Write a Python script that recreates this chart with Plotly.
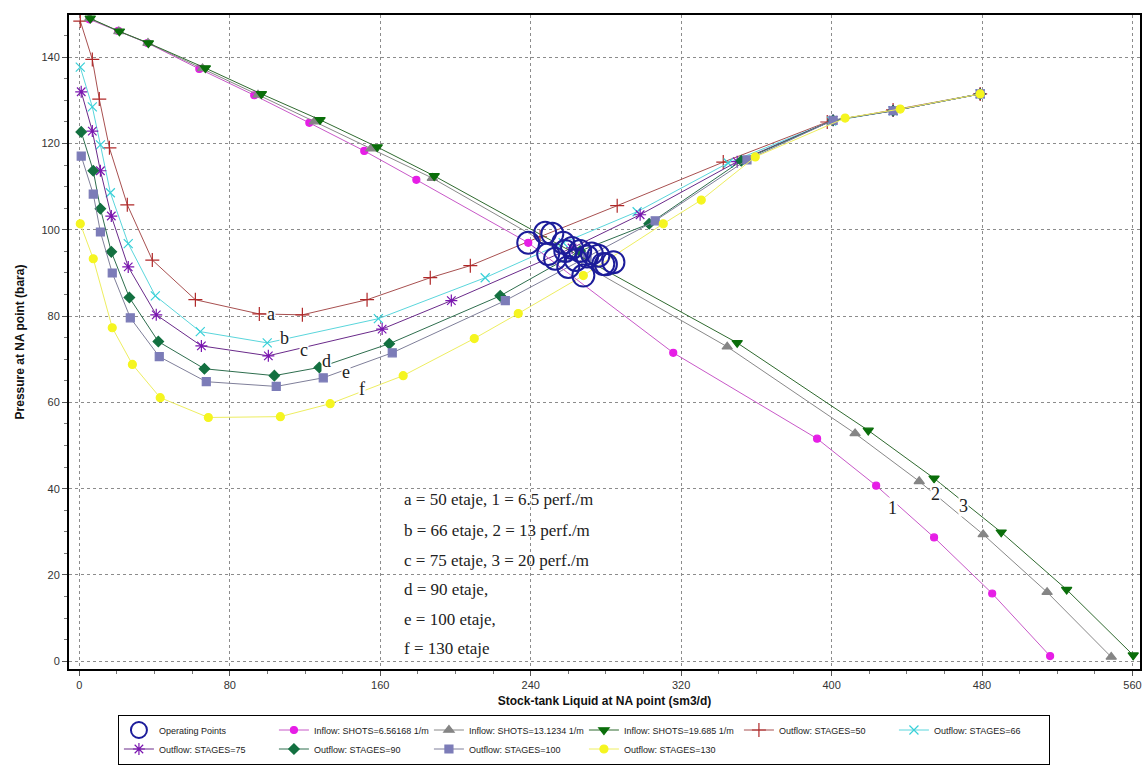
import plotly.graph_objects as go

# ---- Inflow curves (reservoir IPR) ----
in1_x = [5.3, 20.7, 36.2, 63.8, 93.0, 122.3, 151.5, 179.2, 238.7, 315.8, 392.3, 423.7, 454.5, 485.4, 516.2]
in1_y = [148.8, 146.1, 143.3, 137.3, 131.2, 124.8, 118.3, 111.6, 97.0, 71.5, 51.6, 40.7, 28.7, 15.7, 1.2]

in2_x = [5.5, 21.0, 36.5, 65.5, 95.0, 125.0, 155.0, 187.7, 344.5, 412.5, 446.6, 480.6, 514.6, 548.7]
in2_y = [149.0, 146.0, 143.3, 137.4, 131.3, 125.1, 118.8, 112.0, 72.9, 52.8, 41.7, 29.4, 16.0, 1.0]

in3_x = [5.8, 21.3, 36.7, 67.0, 96.8, 128.0, 158.4, 188.7, 349.8, 419.5, 454.5, 490.2, 525.0, 560.4]
in3_y = [149.0, 146.0, 143.3, 137.5, 131.5, 125.5, 119.2, 112.5, 73.8, 53.5, 42.4, 29.9, 16.6, 1.4]

# ---- Outflow curves (tubing + pump stages) ----
out50_x = [0.5, 6.9, 10.6, 16.0, 25.5, 38.8, 61.7, 95.7, 118.6, 153.0, 186.6, 207.9, 245.0, 286.0, 342.4, 397.7, 432.7, 479.0]
out50_y = [148.4, 139.5, 130.3, 119.0, 105.8, 93.0, 83.8, 80.5, 80.3, 83.8, 88.9, 91.7, 98.4, 105.6, 115.7, 125.0, 127.8, 131.5]

out66_x = [0.5, 6.9, 11.2, 16.5, 26.0, 40.4, 64.3, 99.9, 159.0, 215.8, 257.3, 296.6, 345.0, 400.0, 432.7, 479.0]
out66_y = [137.7, 128.5, 119.7, 108.6, 96.8, 84.7, 76.4, 73.8, 79.4, 88.9, 97.0, 104.2, 115.5, 125.2, 127.6, 131.5]

out75_x = [1.0, 6.9, 11.2, 17.0, 26.0, 40.9, 64.9, 100.5, 161.0, 197.8, 262.0, 298.2, 349.8, 400.8, 432.7, 479.0]
out75_y = [132.0, 122.9, 113.7, 103.2, 91.4, 80.3, 73.1, 70.8, 77.0, 83.6, 95.8, 103.5, 115.8, 125.4, 127.6, 131.5]

out90_x = [1.0, 7.4, 11.2, 17.0, 26.6, 42.0, 66.5, 103.7, 127.6, 164.8, 223.8, 266.3, 303.0, 352.0, 400.8, 432.7, 479.0]
out90_y = [122.7, 113.7, 104.9, 94.9, 84.3, 74.1, 67.8, 66.2, 68.1, 73.6, 84.7, 95.1, 101.4, 116.0, 125.4, 127.6, 131.5]

out100_x = [1.0, 7.4, 11.2, 17.5, 27.1, 42.5, 67.5, 104.7, 129.7, 166.4, 226.5, 270.0, 306.2, 355.0, 400.8, 432.7, 479.0]
out100_y = [117.1, 108.3, 99.5, 90.0, 79.6, 70.6, 64.8, 63.7, 65.7, 71.5, 83.6, 93.8, 102.1, 116.2, 125.4, 127.6, 131.5]

out130_x = [0.5, 7.4, 17.5, 28.2, 43.0, 68.6, 106.9, 133.4, 172.2, 210.0, 233.4, 268.0, 310.5, 330.7, 359.4, 407.2, 436.5, 479.0]
out130_y = [101.4, 93.3, 77.3, 68.8, 61.1, 56.5, 56.7, 59.7, 66.2, 74.8, 80.6, 89.4, 101.4, 106.9, 116.9, 125.9, 128.0, 131.5]

# ---- Operating points (inflow x outflow intersections) ----
op_x = [238.7, 247.7, 251.5, 249.3, 257.3, 258.4, 253.0, 262.0, 266.3, 270.0, 260.0, 278.6, 268.0, 280.0, 284.0, 264.0, 272.5, 276.0]
op_y = [97.0, 99.3, 99.1, 94.4, 97.0, 95.1, 93.3, 95.8, 95.1, 93.8, 91.4, 92.1, 89.4, 92.0, 92.5, 93.0, 94.5, 94.0]

legend_names = [
    "Operating Points",
    "Inflow: SHOTS=6.56168 1/m",
    "Inflow: SHOTS=13.1234 1/m",
    "Inflow: SHOTS=19.685 1/m",
    "Outflow: STAGES=50",
    "Outflow: STAGES=66",
    "Outflow: STAGES=75",
    "Outflow: STAGES=90",
    "Outflow: STAGES=100",
    "Outflow: STAGES=130",
]

curve_labels = ["a", "b", "c", "d", "e", "f"]
curve_label_x = [102.0, 109.0, 119.6, 131.3, 142.0, 150.5]
curve_label_y = [80.6, 75.0, 72.2, 69.7, 67.1, 63.0]

shot_labels = ["1", "2", "3"]
shot_label_x = [432.2, 455.0, 470.0]
shot_label_y = [35.6, 38.7, 36.1]

note_lines = [
    "a = 50 etaje, 1 = 6.5 perf./m",
    "b = 66 etaje, 2 = 13 perf./m",
    "c = 75 etaje, 3 = 20 perf./m",
    "d = 90 etaje,",
    "e = 100 etaje,",
    "f = 130 etaje",
]
note_x = 171.5
note_y = [37.5, 30.3, 23.4, 16.7, 9.7, 3.0]

fig = go.Figure()

def add_curve(x, y, name, line_color, marker_color, symbol, size, lw=1.0):
    fig.add_trace(go.Scatter(
        x=x, y=y, name=name, mode="lines+markers",
        line=dict(color=line_color, width=lw),
        marker=dict(color=marker_color, symbol=symbol, size=size,
                    line=dict(color=marker_color, width=1.2)),
    ))

add_curve(out50_x, out50_y, legend_names[4], "#a85050", "#b02828", "cross-thin-open", 10)
add_curve(out66_x, out66_y, legend_names[5], "#5ad6dc", "#38d0d8", "x-thin-open", 9)
add_curve(out75_x, out75_y, legend_names[6], "#6a2a8a", "#7a16b0", "asterisk-open", 10)
add_curve(out90_x, out90_y, legend_names[7], "#2e6e4e", "#137040", "diamond", 8)
add_curve(out100_x, out100_y, legend_names[8], "#7f7f9a", "#7c7cb8", "square", 8)
add_curve(out130_x, out130_y, legend_names[9], "#eeee60", "#f5f520", "circle", 8)
add_curve(in1_x, in1_y, legend_names[1], "#c858c8", "#e61ee6", "circle", 7)
add_curve(in2_x, in2_y, legend_names[2], "#888888", "#858585", "triangle-up", 9)
add_curve(in3_x, in3_y, legend_names[3], "#2f6a2f", "#0a6e0a", "triangle-down", 9)

fig.add_trace(go.Scatter(
    x=op_x, y=op_y, name=legend_names[0], mode="markers",
    marker=dict(symbol="circle-open", size=22, color="#1c1c9a", line=dict(width=2, color="#1c1c9a")),
))

for t in fig.data:
    t.legendrank = legend_names.index(t.name) + 1

annotations = []
for t, x, y in zip(curve_labels, curve_label_x, curve_label_y):
    annotations.append(dict(x=x, y=y, text=t, showarrow=False, xanchor="center", yanchor="middle",
                            bgcolor="white", borderpad=0,
                            font=dict(family="Liberation Serif", size=18, color="#222")))
for t, x, y in zip(shot_labels, shot_label_x, shot_label_y):
    annotations.append(dict(x=x, y=y, text=t, showarrow=False, xanchor="center", yanchor="middle",
                            bgcolor="white", borderpad=0,
                            font=dict(family="Liberation Serif", size=18, color="#222")))
for t, y in zip(note_lines, note_y):
    annotations.append(dict(x=note_x, y=y, text=t, showarrow=False, xanchor="left", yanchor="middle",
                            font=dict(family="Liberation Serif", size=17, color="#222")))

grid = dict(showgrid=True, gridcolor="#8c8c8c", griddash="3px,3px", gridwidth=1,
            zeroline=False, showline=True, linecolor="black", linewidth=2, mirror=True,
            ticks="outside", ticklen=5, tickcolor="#555",
            tickfont=dict(family="Liberation Sans", size=11, color="#333"))

fig.update_layout(
    width=1145, height=765,
    margin=dict(l=69, r=5, t=15, b=96, autoexpand=False),
    paper_bgcolor="white", plot_bgcolor="white",
    font=dict(family="Liberation Sans", size=11, color="#333"),
    annotations=annotations,
    showlegend=True,
    legend=dict(
        orientation="h", xref="container", yref="container",
        x=0.103, xanchor="left", y=0.066, yanchor="top",
        bordercolor="black", borderwidth=1, bgcolor="white",
        font=dict(family="Liberation Sans", size=9, color="#222"),
        entrywidth=110, itemwidth=30, tracegroupgap=0,
    ),
    xaxis=dict(
        range=[-5.5, 564], dtick=80, tick0=0,
        minor=dict(dtick=20, ticks="outside", ticklen=3, tickcolor="#777", showgrid=False),
        title=dict(text="<b>Stock-tank Liquid at NA point (sm3/d)</b>", standoff=6,
                   font=dict(family="Liberation Sans", size=12, color="#111")),
        **grid,
    ),
    yaxis=dict(
        range=[-1.8, 149.8], dtick=20, tick0=0,
        minor=dict(dtick=5, ticks="outside", ticklen=3, tickcolor="#777", showgrid=False),
        title=dict(text="<b>Pressure at NA point (bara)</b>", standoff=14,
                   font=dict(family="Liberation Sans", size=12, color="#111")),
        **grid,
    ),
)

fig.write_html("out.html")
